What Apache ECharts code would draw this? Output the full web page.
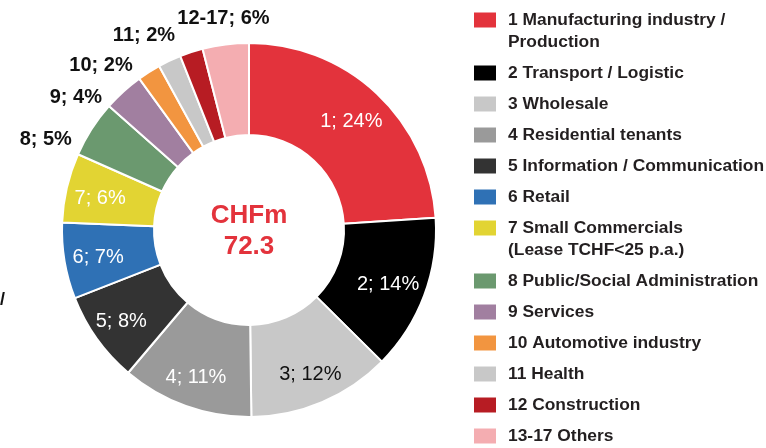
<!DOCTYPE html>
<html>
<head>
<meta charset="utf-8">
<script src="https://cdn.jsdelivr.net/npm/echarts@6/dist/echarts.min.js"></script>
<style>
  html, body { margin: 0; padding: 0; background: #fff; }
  #chart { width: 766px; height: 448px; }
</style>
</head>
<body>
<div id="chart"></div>
<script>
// tenant sectors, share of rental income (%)
var categories = [
  "1 Manufacturing industry /\nProduction",
  "2 Transport / Logistic",
  "3 Wholesale",
  "4 Residential tenants",
  "5 Information / Communication",
  "6 Retail",
  "7 Small Commercials\n(Lease TCHF<25 p.a.)",
  "8 Public/Social Administration",
  "9 Services",
  "10 Automotive industry",
  "11 Health",
  "12 Construction",
  "13-17 Others"
];
var values = [24, 13.5, 12.4, 11.4, 7.9, 6.6, 6.0, 4.9, 3.5, 2.0, 2.0, 2.0, 4.0];
var sliceLabels = ["1; 24%", "2; 14%", "3; 12%", "4; 11%", "5; 8%", "6; 7%", "7; 6%",
  "8; 5%", "9; 4%", "10; 2%", "11; 2%", "", "12-17; 6%"];
var colors = ["#e3333c", "#000000", "#c8c8c8", "#9a9a9a", "#333333", "#2f71b5", "#e2d433",
  "#6b996f", "#a17fa0", "#f29540", "#c8c8c8", "#b71c23", "#f4adb1"];
var centerLines = ["CHFm", "72.3"];

var chart = echarts.init(document.getElementById("chart"));

var font = "'Liberation Sans', Arial, sans-serif";
var INSIDE_COUNT = 7; // slices 1..7 carry their label inside the ring

// nudges so the labels sit like the original
var outsideShift = { 7: [-8, 15], 8: [-11, 12], 9: [-7, 0], 10: [14, -18], 12: [50, -18] };
var insideShift = { 0: [-5, 6], 1: [-8, 0], 5: [4, 2], 6: [4, 4] };

var ringData = values.map(function (v, i) {
  return {
    name: categories[i],
    value: v,
    itemStyle: { color: colors[i] },
    label: (i < INSIDE_COUNT || i === 11) ? { show: false } : {
      show: true,
      position: "outside",
      color: "#111",
      fontSize: 20,
      fontWeight: "bold"
    }
  };
});

// same slices again, transparent, only to hold the inner labels a bit further out
var labelData = values.map(function (v, i) {
  return {
    name: categories[i],
    value: v,
    label: i < INSIDE_COUNT ? {
      show: true,
      position: "inside",
      color: i === 2 ? "#111" : "#fff",
      fontSize: 20
    } : { show: false }
  };
});

// legend is split in two blocks so the two-line entries only push the items below them
function makeLegend(names, top) {
  return {
    orient: "vertical",
    left: 474,
    top: top,
    padding: 0,
    itemWidth: 22,
    itemHeight: 15,
    itemGap: 9,
    icon: "rect",
    itemStyle: { borderWidth: 0 },
    data: names,
    formatter: function (name) {
      // two-line names: keep the first line next to the swatch
      return name.indexOf("\n") >= 0 ? "\n" + name : name;
    },
    textStyle: {
      fontFamily: font,
      fontSize: 17.4,
      fontWeight: "bold",
      color: "#231f20",
      lineHeight: 22,
      padding: [0, 0, 0, 7]
    }
  };
}

function shiftBy(table) {
  return function (p) {
    var s = table[p.dataIndex];
    return s ? { dx: s[0], dy: s[1], hideOverlap: false } : { hideOverlap: false };
  };
}

var option = {
  animation: false,
  color: colors,
  legend: [
    makeLegend(categories.slice(0, 6), -13),
    makeLegend(categories.slice(6), 195)
  ],
  graphic: [
    {
      type: "text",
      x: 249, y: 216,
      style: {
        text: centerLines[0], fill: "#e3333c", font: "bold 26px " + font,
        align: "center", verticalAlign: "middle", textAlign: "center", textVerticalAlign: "middle"
      }
    },
    {
      type: "text",
      x: 249, y: 247,
      style: {
        text: centerLines[1], fill: "#e3333c", font: "bold 26px " + font,
        align: "center", verticalAlign: "middle", textAlign: "center", textVerticalAlign: "middle"
      }
    },
    {
      type: "text",
      x: 0, y: 300,
      style: { text: "/", fill: "#111", font: "bold 18px " + font, verticalAlign: "middle", textVerticalAlign: "middle" }
    }
  ],
  series: [
    {
      type: "pie",
      center: [249, 230],
      radius: [95, 187],
      startAngle: 90,
      clockwise: true,
      avoidLabelOverlap: false,
      itemStyle: { borderColor: "#fff", borderWidth: 2 },
      label: {
        fontFamily: font,
        formatter: function (p) { return sliceLabels[p.dataIndex]; }
      },
      labelLine: { show: false, length: 8, length2: 0 },
      labelLayout: shiftBy(outsideShift),
      emphasis: { disabled: true },
      data: ringData
    },
    {
      type: "pie",
      center: [249, 230],
      radius: [121, 187],
      startAngle: 90,
      clockwise: true,
      silent: true,
      avoidLabelOverlap: false,
      itemStyle: { color: "rgba(0,0,0,0)", borderWidth: 0 },
      label: {
        fontFamily: font,
        formatter: function (p) { return sliceLabels[p.dataIndex]; }
      },
      labelLine: { show: false },
      labelLayout: shiftBy(insideShift),
      emphasis: { disabled: true },
      data: labelData
    }
  ]
};

chart.setOption(option);
window.addEventListener("resize", function () {
  chart.resize();
});
</script>
</body>
</html>
